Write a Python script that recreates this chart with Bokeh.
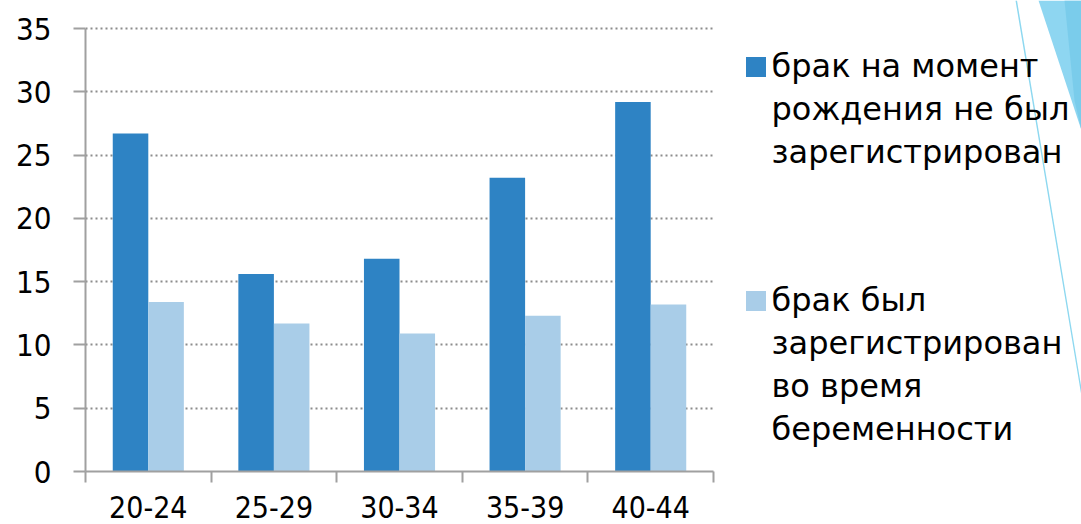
import numpy as np
from bokeh.plotting import figure
from bokeh.models import (Range1d, FixedTicker, Legend, LegendItem,
                          PolyAnnotation, ColumnDataSource)
from bokeh.embed import file_html
from bokeh.resources import INLINE

# ---- data ----
categories = ["20-24", "25-29", "30-34", "35-39", "40-44"]
not_registered = [26.7, 15.6, 16.8, 23.2, 29.2]
registered_in_pregnancy = [13.4, 11.7, 10.9, 12.3, 13.2]
series_lines_1 = ["брак на момент", "рождения не был", "зарегистрирован"]
series_lines_2 = ["брак был", "зарегистрирован", "во время", "беременности"]
y_ticks = [0, 5, 10, 15, 20, 25, 30, 35]

DARK = "#2E83C4"
LIGHT = "#A9CDE8"
GRID = "#8c8c8c"
AXIS = "#a0a0a0"
FONT = "DejaVu Sans"
TICK_FONT = "DejaVu Sans Condensed"

n = len(categories)
y_max = y_ticks[-1]
centers = np.arange(n) + 0.5
bar_w = 0.283

# the frame spans the whole canvas so the legend and the theme shapes are not clipped;
# the axes are bounded to the data part
x_end = n * (1081 - 85) / (713 - 85)
y_end = y_max * 471 / (471 - 28)

src = ColumnDataSource(dict(
    x1=centers - bar_w / 2,
    x2=centers + bar_w / 2,
    a=not_registered,
    b=registered_in_pregnancy,
))

p = figure(width=1081, height=524, output_backend="svg", toolbar_location=None,
           x_range=Range1d(0, x_end), y_range=Range1d(0, y_end),
           min_border_left=85, min_border_right=0,
           min_border_top=0, min_border_bottom=53)
p.outline_line_color = None
p.background_fill_color = "white"
p.border_fill_color = "white"

r1 = p.vbar(x="x1", top="a", width=bar_w, source=src, fill_color=DARK, line_color=None)
r2 = p.vbar(x="x2", top="b", width=bar_w, source=src, fill_color=LIGHT, line_color=None)

# grid
p.xgrid.grid_line_color = None
p.ygrid.grid_line_color = GRID
p.ygrid.grid_line_dash = "2 3"
p.ygrid.grid_line_width = 2
p.ygrid.ticker = FixedTicker(ticks=y_ticks[1:])
p.ygrid.cross_bounds = (0, n)
p.ygrid.level = "underlay"

# y axis
p.yaxis.ticker = FixedTicker(ticks=y_ticks)
p.yaxis.bounds = (0, y_max)
p.yaxis.axis_line_color = AXIS
p.yaxis.axis_line_width = 2
p.yaxis.major_tick_line_color = AXIS
p.yaxis.major_tick_line_width = 2
p.yaxis.major_tick_in = 0
p.yaxis.major_tick_out = 12
p.yaxis.minor_tick_line_color = None
p.yaxis.major_label_standoff = 22
p.yaxis.major_label_text_font = TICK_FONT
p.yaxis.major_label_text_font_size = "31px"
p.yaxis.major_label_text_color = "black"

# x axis: labels at the centres, tick marks at the category boundaries
p.xaxis.ticker = FixedTicker(ticks=list(centers), minor_ticks=list(range(n + 1)))
p.xaxis.bounds = (0, n)
p.xaxis.major_label_overrides = {float(c): lab for c, lab in zip(centers, categories)}
p.xaxis.axis_line_color = AXIS
p.xaxis.axis_line_width = 2
p.xaxis.major_tick_line_color = None
p.xaxis.major_tick_in = 0
p.xaxis.major_tick_out = 0
p.xaxis.minor_tick_line_color = AXIS
p.xaxis.minor_tick_line_width = 2
p.xaxis.minor_tick_in = 0
p.xaxis.minor_tick_out = 11
p.xaxis.major_label_standoff = 13
p.xaxis.major_label_text_font = TICK_FONT
p.xaxis.major_label_text_font_size = "30px"
p.xaxis.major_label_text_color = "black"


# legends: one per series, one item per text line, the swatch on the first line
def make_legend(lines, renderer, loc):
    items = [LegendItem(label=lines[0], renderers=[renderer])]
    items += [LegendItem(label=t, renderers=[]) for t in lines[1:]]
    return Legend(items=items, location=loc, margin=0, padding=0, spacing=5,
                  glyph_width=25, glyph_height=25, label_standoff=4,
                  border_line_color=None, background_fill_alpha=0,
                  label_text_font=FONT, label_text_font_size="32px",
                  label_text_color="black")


p.add_layout(make_legend(series_lines_1, r1, (657.5, 300)), "center")
p.add_layout(make_legend(series_lines_2, r2, (657.5, 23)), "center")

# decoration (theme shapes at the top right)
p.add_layout(PolyAnnotation(xs=[1038, 1081, 1081], ys=[0, 0, 130],
                            xs_units="canvas", ys_units="canvas",
                            fill_color="#8ED6F1", fill_alpha=1, line_color=None))
p.add_layout(PolyAnnotation(xs=[1064, 1081, 1081, 1074], ys=[0, 0, 130, 100],
                            xs_units="canvas", ys_units="canvas",
                            fill_color="#7ACCEB", fill_alpha=1, line_color=None))
p.add_layout(PolyAnnotation(xs=[1015, 1016.5, 1081, 1081], ys=[0, 0, 388, 396],
                            xs_units="canvas", ys_units="canvas",
                            fill_color="#8DD8F0", fill_alpha=1, line_color=None))

open("out.html", "w").write(file_html(p, INLINE))
